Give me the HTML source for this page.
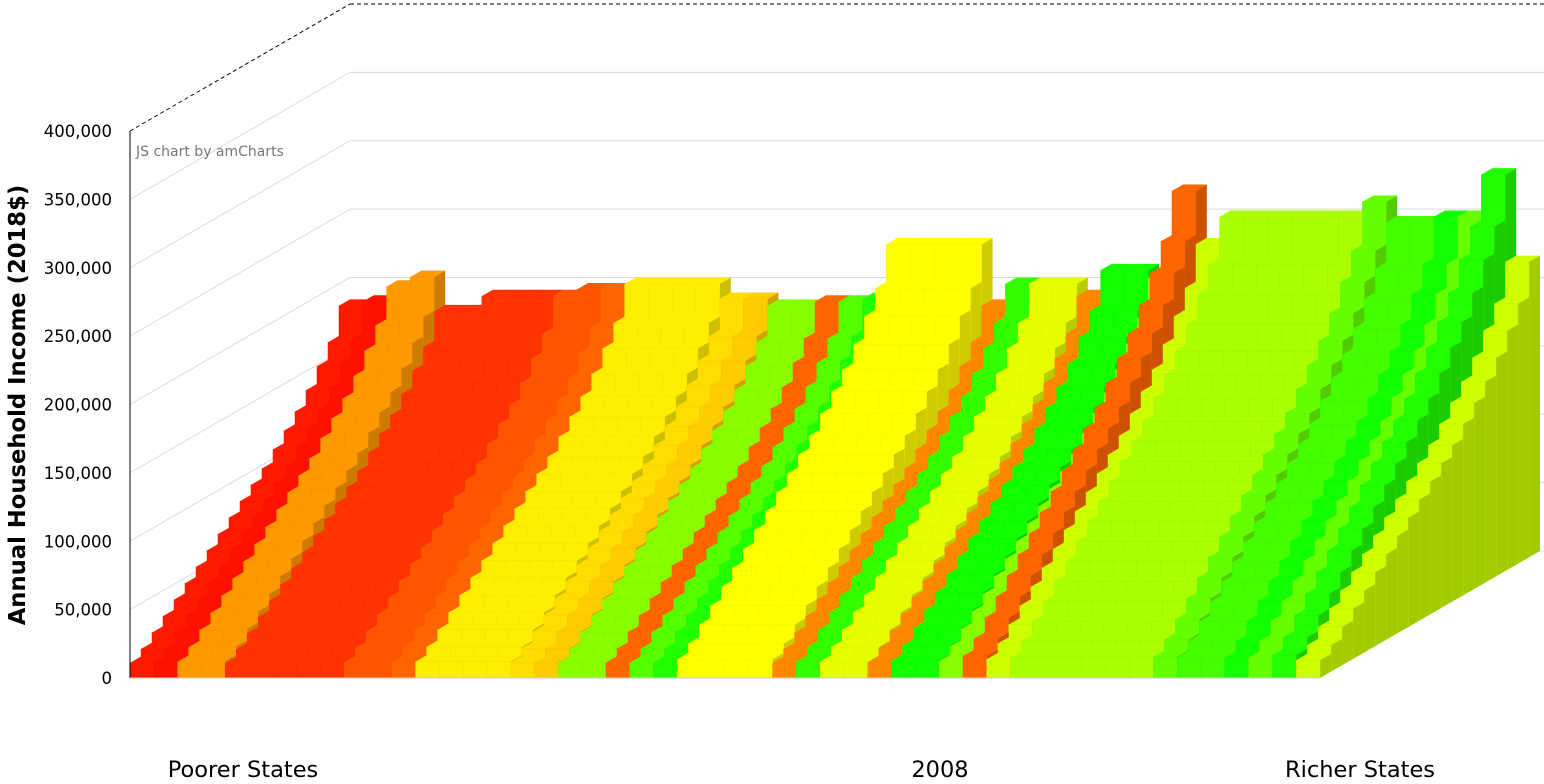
<!DOCTYPE html>
<html><head><meta charset="utf-8"><style>
body{margin:0;background:#fff;}
svg{display:block;font-family:"DejaVu Sans","Liberation Sans",sans-serif;}
</style></head><body>
<svg id="c" width="1544" height="784" viewBox="0 0 1544 784"></svg>
<script>
const states = Array.from({length:50},(_,i)=>'S'+(i+1));
const stateColors = ['#ff1a00','#ff1100','#ff9900','#ff9900','#ff3300','#ff3300','#ff3300','#ff3300','#ff3300','#ff5500','#ff5500','#ff6600','#ffee00','#ffee00','#ffee00','#ffee00','#ffdd00','#ffcc00','#88ff00','#88ff00','#ff6600','#55ff00','#22ff00','#ffff00','#ffff00','#ffff00','#ffff00','#ff8800','#33ff00','#e6ff00','#e6ff00','#ff8800','#11ff00','#11ff00','#88ff00','#ff6600','#ccff00','#aaff00','#aaff00','#aaff00','#aaff00','#aaff00','#aaff00','#66ff00','#44ff00','#44ff00','#11ff00','#66ff00','#22ff00','#ccff00'];
const topValues = [184,187,198,205,180,180,191,191,191,191,196,196,200,200,200,200,189,189,184,184,187,187,189,229,229,229,229,184,200,200,200,191,210,210,204,268,229,249,249,249,249,249,249,260,245,245,249,249,280,216];
const profile = [0.06,0.09,0.13,0.17,0.21,0.25,0.29,0.33,0.37,0.41,0.45,0.49,0.53,0.58,0.63,0.68,0.74,0.81,0.88,1.0];
const yTicks = [0,50000,100000,150000,200000,250000,300000,350000,400000];
const tickLabels = ['0','50,000','100,000','150,000','200,000','250,000','300,000','350,000','400,000'];

const NS='http://www.w3.org/2000/svg', svg=document.getElementById('c');
const X0=130,X1=1320,Y0=678,Y1=131,DX=220,DY=127;
const y = v => Y0 - v/400000*(Y0-Y1);
const bw=(X1-X0)/states.length, N=profile.length, ddx=DX/N, ddy=DY/N;
function el(t,a,p){const e=document.createElementNS(NS,t);for(const k in a)e.setAttribute(k,a[k]);(p||svg).appendChild(e);return e;}
function shade(c,f){const n=parseInt(c.slice(1),16);const r=Math.round((n>>16)*f),g=Math.round(((n>>8)&255)*f),b=Math.round((n&255)*f);return `rgb(${r},${g},${b})`;}
const grid=el('g',{});


yTicks.forEach((t,i)=>{const yy=y(t);const last=i===yTicks.length-1;
 const st=last?'#000':'#d9d9d9';const da=last?'4,3':'none';
 el('line',{x1:X0,y1:yy,x2:X0+DX,y2:yy-DY,stroke:st,'stroke-dasharray':da},grid);
 el('line',{x1:X0+DX,y1:yy-DY,x2:1544,y2:yy-DY,stroke:st,'stroke-dasharray':da},grid);
 const tl=el('text',{x:112,y:yy+6,'text-anchor':'end','font-size':16.5,fill:'#000'});tl.textContent=tickLabels[i];
 
 
});
const bars=el('g',{});


for(let k=N-1;k>=0;k--){
 const ox=k*ddx, oy=-k*ddy;
 for(let i=0;i<states.length;i++){
  const v=topValues[i]*1000*profile[k];
  const h=Y0-y(v);
  const x=X0+i*bw+ox, yb=Y0+oy, yt=yb-h, w=bw;
  const c=stateColors[i];
  const g=el('g',{},bars);
  
  
  el('polygon',{points:`${x+w},${yb} ${x+w+ddx},${yb-ddy} ${x+w+ddx},${yt-ddy} ${x+w},${yt}`,fill:shade(c,0.8)},g);
  el('polygon',{points:`${x},${yt} ${x+ddx},${yt-ddy} ${x+w+ddx},${yt-ddy} ${x+w},${yt}`,fill:c},g);
  el('rect',{x:x,y:yt,width:w,height:h,fill:c,stroke:shade(c,0.95),'stroke-width':0.5},g);
 }
}
el('line',{x1:X0,y1:Y1,x2:X0,y2:Y0,stroke:'#000'});
el('line',{x1:X0,y1:Y0,x2:X1,y2:Y0,stroke:'#ccc'});
function txt(s,a,name){const t=el('text',a);t.textContent=s;return t;}
txt('JS chart by amCharts',{x:136,y:156,'font-size':14,fill:'#777'},'credit');
txt('Poorer States',{x:243,y:777,'text-anchor':'middle','font-size':22.5},'x-label-poorer');
txt('2008',{x:940,y:777,'text-anchor':'middle','font-size':22.5},'x-label-year');
txt('Richer States',{x:1360,y:777,'text-anchor':'middle','font-size':22.5},'x-label-richer');
txt('Annual Household Income (2018$)',{x:0,y:0,'text-anchor':'middle','font-size':22.7,'font-weight':'bold',transform:'translate(25,405) rotate(-90)'},'y-axis-title');
</script>
</body></html>
